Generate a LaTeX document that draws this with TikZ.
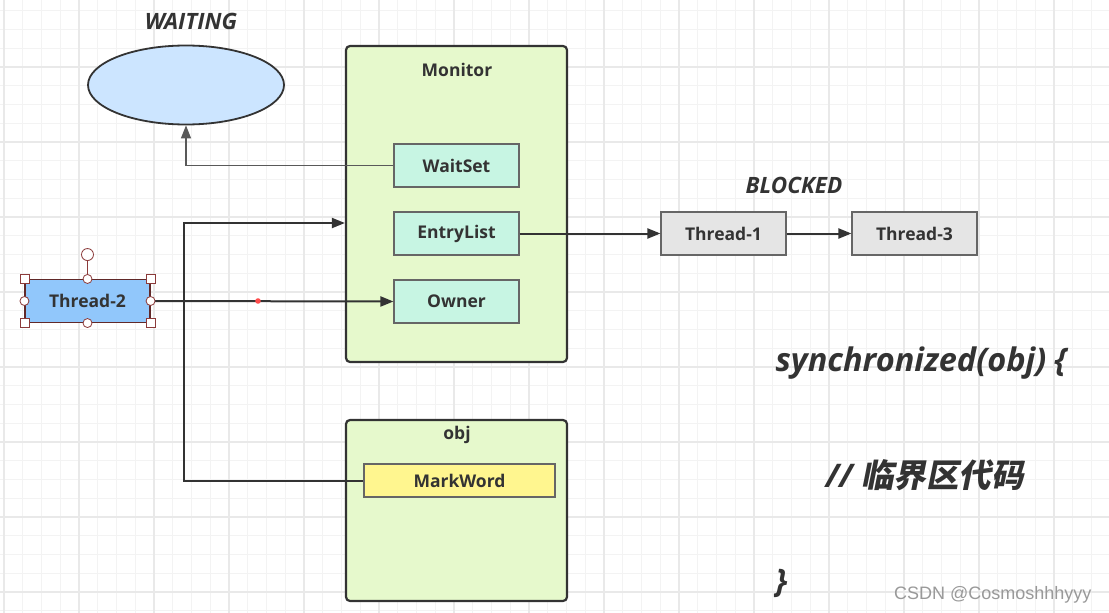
\documentclass[tikz,border=0pt]{standalone}
\usepackage{fontspec}
\setmainfont{Open Sans}
\newfontfamily\cjk[FakeSlant=0.2]{Noto Sans CJK SC Bold}
\newfontfamily\wmark{Liberation Sans}
\usetikzlibrary{arrows.meta, shapes.geometric}

\definecolor{txt}{HTML}{333333}
\definecolor{edge}{HTML}{333333}
\definecolor{waitblue}{HTML}{CCE5FF}
\definecolor{monfill}{HTML}{E6F9CC}
\definecolor{mint}{HTML}{C7F5E3}
\definecolor{threadblue}{HTML}{91C7FB}
\definecolor{threadgrey}{HTML}{E5E5E5}
\definecolor{markyellow}{HTML}{FFF68F}
\definecolor{gridminor}{HTML}{F3F3F3}
\definecolor{gridmajor}{HTML}{E9E9E9}
\definecolor{handle}{HTML}{8B3A3A}

\begin{document}
\begin{tikzpicture}[x=1pt, y=-1pt, >={Stealth[length=13pt,width=10pt,inset=0pt]},
    font=\bfseries\fontsize{17.5}{20}\selectfont, text=txt,
    container/.style={draw=edge, line width=2.2pt, fill=monfill, rounded corners=4pt, minimum width=221pt, inner sep=0pt},
    slot/.style={draw=black!60, line width=1.1pt, minimum width=125pt, minimum height=43pt, inner sep=0pt},
    tag/.style={font=\bfseries\itshape\fontsize{22.5}{24}\selectfont},
    code/.style={font=\bfseries\itshape\fontsize{32.5}{34}\selectfont, anchor=west},
    link/.style={draw=edge, line width=2pt, ->},
    handlebox/.style={draw=handle, fill=white, line width=0.8pt, minimum size=9pt, inner sep=0pt},
    handledot/.style={draw=handle, fill=white, circle, line width=0.8pt, minimum size=9pt, inner sep=0pt}]

  \useasboundingbox (0,0) rectangle (1109,613);
  % grid
  \fill[white] (0,0) rectangle (1109,613);
  \foreach \i in {0,...,58} \draw[gridminor, line width=1pt] ({4+18.75*\i},0) -- ++(0,613);
  \foreach \i in {0,...,32} \draw[gridminor, line width=1pt] (0,{10.75+18.75*\i}) -- ++(1109,0);
  \foreach \i in {0,...,14} \draw[gridmajor, line width=1.2pt] ({4+75*\i},0) -- ++(0,613);
  \foreach \i in {1,...,8} \draw[gridmajor, line width=1.2pt] (0,{-8+75*\i}) -- ++(1109,0);

  % waiting set
  \node[ellipse, draw=edge, line width=1.8pt, fill=waitblue, minimum width=196pt, minimum height=79pt] (waiting) at (186,85) {};
  \node[tag] (waitlbl) at (191,21) {WAITING};

  % monitor
  \node[container, minimum height=316pt] (monitor) at (456.5,204) {};
  \node (montitle) at (457,70) {Monitor};
  \node[slot, fill=mint] (waitset)   at (456.5,165.5) {WaitSet};
  \node[slot, fill=mint] (entrylist) at (456.5,233.5) {EntryList};
  \node[slot, fill=mint] (owner)     at (456.5,301.5) {Owner};

  % obj
  \node[container, minimum height=181pt] (obj) at (456.5,510.5) {};
  \node (objtitle) at (457,435) {obj};
  \node[slot, fill=markyellow, minimum width=191pt, minimum height=33pt] (markword) at (459.5,480.5) {MarkWord};

  % threads
  \node[slot, fill=threadblue, draw=handle!70!black] (thread2) at (87.5,301) {Thread-2};
  \node[tag] (blocklbl) at (794,185) {BLOCKED};
  \node[slot, fill=threadgrey] (thread1) at (723.5,233.5) {Thread-1};
  \node[slot, fill=threadgrey] (thread3) at (914.5,233.5) {Thread-3};

  % connectors
  \draw[draw=black!65, line width=1.2pt, ->] (waitset.west) -| (waiting.south);
  \coordinate (turn) at (183.5,223);
  \draw[link] (markword.west) -| (turn) -- (turn -| monitor.west);
  \draw[link] (thread2.east) -- (owner.west);
  \draw[link] (entrylist.east) -- (thread1.west);
  \draw[link] (thread1.east) -- (thread3.west);

  % selection handles
  \draw[handle, line width=0.8pt] (thread2.north) -- ++(0,-18) node[handledot, minimum size=12pt, anchor=south] (rot) {};
  \foreach \a in {north west, north east, south west, south east}
    \node[handlebox] at (thread2.\a) {};
  \foreach \a in {north, south, west, east}
    \node[handledot] at (thread2.\a) {};
  \fill[red!70!white] (258,301) circle (2.8pt);

  % code
  \node[code] (sync) at (772,363) {synchronized(obj) \{};
  \node[code] (crit) at (822,475) {// {\cjk 临界区代码}};
  \node[code] (close) at (772,583) {\}};
  \node[font=\wmark\fontsize{18}{20}\selectfont, text=black!40, anchor=east] (mark) at (1095,595) {CSDN @Cosmoshhhyyy};
\end{tikzpicture}
\end{document}
